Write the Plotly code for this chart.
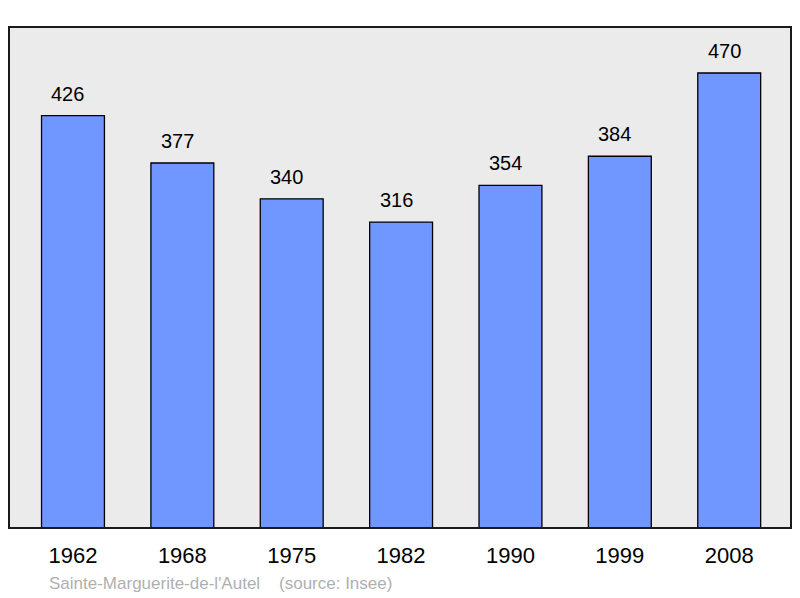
import plotly.graph_objects as go

years = ["1962", "1968", "1975", "1982", "1990", "1999", "2008"]
population = [426, 377, 340, 316, 354, 384, 470]
footer_text = "Sainte-Marguerite-de-l'Autel    (source: Insee)"

fig = go.Figure()
fig.add_trace(go.Bar(
    x=years, y=population, width=0.575,
    marker=dict(color="#7097ff", line=dict(color="black", width=1.3)),
    hoverinfo="skip",
))

for i, v in enumerate(population):
    fig.add_annotation(x=i, y=v, text=str(v), showarrow=False,
                       yanchor="bottom", yshift=9, xshift=-5,
                       font=dict(size=20, color="black", family="Liberation Sans, Arial, sans-serif"))

fig.add_annotation(x=0, y=0, xref="paper", yref="paper", xshift=38, yshift=-55,
                   xanchor="left", yanchor="middle", text=footer_text, showarrow=False,
                   font=dict(size=17, color="#b0b0b0", family="Liberation Sans, Arial, sans-serif"))

fig.add_shape(type="rect", xref="paper", yref="paper", x0=0, y0=0, x1=1, y1=1,
              line=dict(color="#1a1a1a", width=2), layer="above")

fig.update_layout(
    width=800, height=598,
    margin=dict(l=9, r=9, t=27, b=70),
    plot_bgcolor="#ebebeb", paper_bgcolor="white",
    showlegend=False,
    font=dict(family="Liberation Sans, Arial, sans-serif", color="black"),
    xaxis=dict(type="category", range=[-0.585, 6.565], showgrid=False, zeroline=False,
               showline=False, ticks="", tickfont=dict(size=22, color="black"),
               ticklabelstandoff=12, fixedrange=True),
    yaxis=dict(range=[0, 517.5], showgrid=False, zeroline=False, showticklabels=False,
               showline=False, ticks="", fixedrange=True),
)

fig.write_html("out.html", config={"displayModeBar": False},
               post_script="document.body.style.margin='0';")
